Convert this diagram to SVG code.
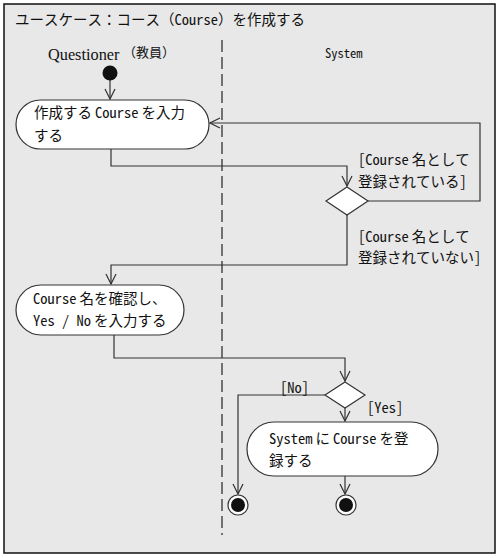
<svg xmlns="http://www.w3.org/2000/svg" width="500" height="558" viewBox="0 0 500 558">
<defs>
<style>
.t{font-family:"Noto Sans Mono CJK JP","Noto Sans CJK JP",monospace;font-size:14.5px;fill:#111}
.act{fill:#fff;stroke:#333;stroke-width:1.2}
.ln{fill:none;stroke:#333;stroke-width:1.2}
.dm{fill:#fff;stroke:#333;stroke-width:1.2}
</style>
<marker id="ar" viewBox="0 0 12 12" refX="11" refY="6" markerWidth="12" markerHeight="12" markerUnits="userSpaceOnUse" orient="auto">
<path d="M1,1 L11,6 L1,11" fill="none" stroke="#333" stroke-width="1.2"/>
</marker>
</defs>
<rect x="4" y="4" width="491" height="549" fill="#e8e8e8" stroke="#111" stroke-width="1.5"/>
<text class="t" x="15" y="25">ユースケース：コース（Course）を作成する</text>
<line x1="222" y1="40" x2="222" y2="535" stroke="#222" stroke-width="1.2" stroke-dasharray="12,5"/>
<g id="lane-questioner">
<text x="48" y="60" font-family="Liberation Serif,serif" font-size="16.3" fill="#111">Questioner</text>
<text class="t" x="123" y="57" style="font-size:13px">（教員）</text>
</g>
<g id="lane-system">
<text class="t" x="325" y="58" style="font-size:12.5px">System</text>
</g>
<g id="connectors">
<line class="ln" x1="110" y1="80" x2="110" y2="99" marker-end="url(#ar)"/>
<polyline class="ln" points="111,149 111,166 347,166 347,186" marker-end="url(#ar)"/>
<polyline class="ln" points="368,201 480,201 480,123 210,123" marker-end="url(#ar)"/>
<polyline class="ln" points="347,215 347,265 111,265 111,284" marker-end="url(#ar)"/>
<polyline class="ln" points="114,335 114,358 345,358 345,381" marker-end="url(#ar)"/>
<polyline class="ln" points="325,395 238,395 238,494" marker-end="url(#ar)"/>
<line class="ln" x1="345" y1="408" x2="345" y2="421" marker-end="url(#ar)"/>
<line class="ln" x1="345" y1="476" x2="345" y2="494" marker-end="url(#ar)"/>
<text class="t" x="358" y="165">[Course<tspan dx="3">名として</tspan></text>
<text class="t" x="358" y="187">登録されている]</text>
<text class="t" x="358" y="242">[Course<tspan dx="3">名として</tspan></text>
<text class="t" x="358" y="263">登録されていない]</text>
<text class="t" x="280" y="393">[No]</text>
<text class="t" x="367" y="413">[Yes]</text>
</g>
<g id="start">
<circle cx="110" cy="73" r="7.5" fill="#111"/>
</g>
<g id="act1">
<rect class="act" x="16" y="100" width="193" height="49" rx="24.5"/>
<text class="t" x="34" y="118">作成する<tspan dx="3">Course</tspan><tspan dx="3">を入力</tspan></text>
<text class="t" x="34" y="141">する</text>
</g>
<g id="dec1">
<polygon class="dm" points="347,187 368,201 347,215 326,201"/>
</g>
<g id="act2">
<rect class="act" x="16" y="285" width="168" height="50" rx="25"/>
<text class="t" x="33" y="304">Course<tspan dx="3">名を確認し、</tspan></text>
<text class="t" x="33" y="326">Yes / No<tspan dx="3">を入力する</tspan></text>
</g>
<g id="dec2">
<polygon class="dm" points="345,382 365,395 345,408 325,395"/>
</g>
<g id="act3">
<rect class="act" x="247" y="422" width="191" height="54" rx="27"/>
<text class="t" x="269" y="444">System<tspan dx="3">に</tspan><tspan dx="3">Course</tspan><tspan dx="3">を登</tspan></text>
<text class="t" x="269" y="466">録する</text>
</g>
<g id="end1">
<circle cx="238" cy="505" r="10" fill="#fff" stroke="#333" stroke-width="1.2"/>
<circle cx="238" cy="505" r="7" fill="#111"/>
</g>
<g id="end2">
<circle cx="346" cy="505" r="10" fill="#fff" stroke="#333" stroke-width="1.2"/>
<circle cx="346" cy="505" r="7" fill="#111"/>
</g>
</svg>
